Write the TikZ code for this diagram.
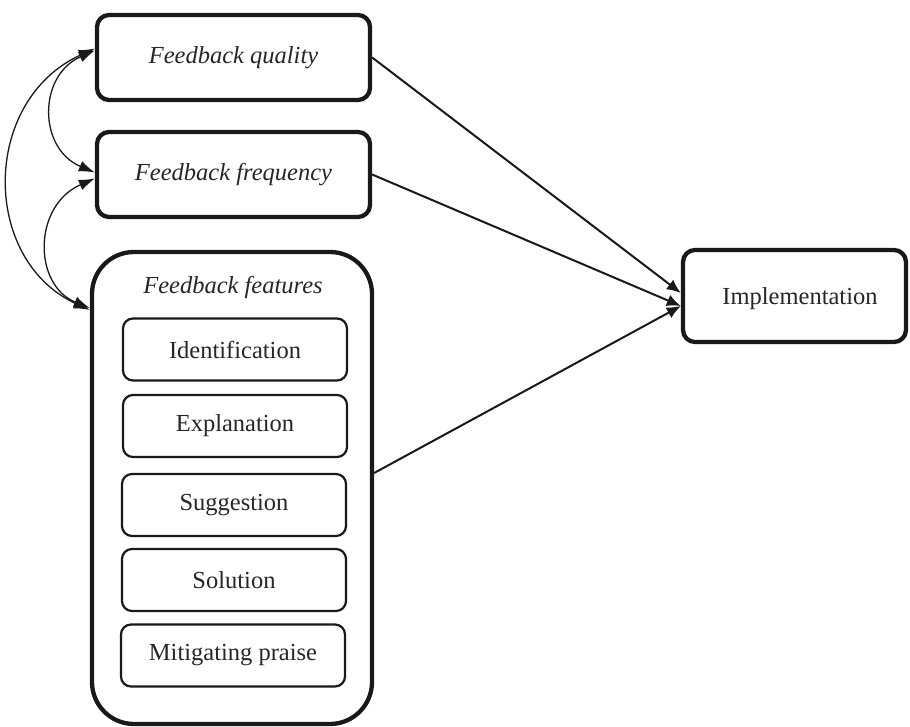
\documentclass[tikz,border=0pt]{standalone}
\usepackage{fontspec}
\setmainfont{Liberation Serif}
\usetikzlibrary{arrows.meta}
\tikzset{
  outerbox/.style={draw=black!90, line width=4.3pt, rounded corners=12pt, minimum width=273pt, minimum height=85pt, inner sep=0pt},
  bigbox/.style={draw=black!90, line width=4.3pt, rounded corners=42pt, minimum width=280pt, minimum height=472pt, inner sep=0pt},
  innerbox/.style={draw=black!90, line width=2.2pt, rounded corners=10pt, minimum width=224pt, minimum height=62pt, inner sep=0pt},
  lbl/.style={font=\fontsize{24.5}{29}\selectfont, text=black!85},
  path/.style={draw=black!90, line width=2pt, -{Latex[length=14pt,width=12pt]}},
  curve/.style={draw=black!90, line width=1.3pt, {Latex[length=16pt,width=11pt]}-{Latex[length=16pt,width=11pt]}}
}
\begin{document}
\begin{tikzpicture}[x=1pt,y=-1pt]
\useasboundingbox (0,0) rectangle (910,727);
\node[outerbox, lbl, font=\fontsize{24.5}{29}\selectfont\itshape] (q) at (233.5,57.5) {Feedback quality};
\node[outerbox, lbl, font=\fontsize{24.5}{29}\selectfont\itshape] (fr) at (233.5,174.5) {Feedback frequency};
\node[bigbox] (feat) at (232,488) {};
\node[lbl, font=\fontsize{24.5}{29}\selectfont\itshape] (feattitle) at (233,287) {Feedback features};
\node[innerbox, lbl] (ident) at (235,349.5) {Identification};
\node[innerbox, lbl] (expl) at (235,426) {Explanation};
\node[innerbox, lbl] (sugg) at (234,505) {Suggestion};
\node[innerbox, lbl] (sol) at (234,580) {Solution};
\node[innerbox, lbl] (mit) at (233,655.5) {Mitigating praise};
\node[outerbox, minimum width=223pt, minimum height=92pt] (impl) at (794.5,296) {};
\node[lbl] (impltext) at (800,299) {Implementation};

\draw[path] (q.east) -- ([yshift=3pt]impl.west);
\draw[path] (fr.east) -- ([yshift=-10pt]impl.west);
\draw[path] ([yshift=15pt]feat.east) -- ([yshift=-10pt]impl.west);

\draw[curve] ([yshift=7pt]q.west) .. controls +(-57,25) and +(-57,-24) .. ([yshift=2pt]fr.west);
\draw[curve] ([yshift=-4pt]fr.west) .. controls +(-62,27) and +(-57,-23) .. ([yshift=180pt]feat.west);
\draw[curve] ([yshift=9pt]q.west) .. controls +(-114,52) and +(-109,-50) .. ([yshift=178pt]feat.west);
\end{tikzpicture}
\end{document}
